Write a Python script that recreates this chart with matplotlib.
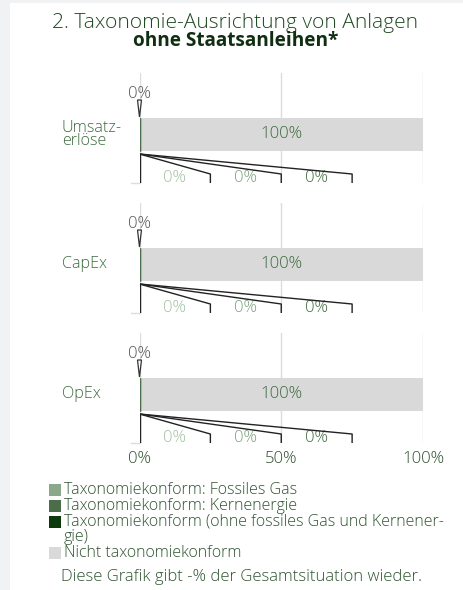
import matplotlib
matplotlib.use("Agg")
import matplotlib.pyplot as plt
from matplotlib.patches import Rectangle, Polygon

plt.rcParams['font.family'] = ['Open Sans', 'DejaVu Sans']
plt.rcParams['font.weight'] = 'light'

# ---- data ----
categories = ["Umsatz-\nerlöse", "CapEx", "OpEx"]
series_names = ["Taxonomiekonform: Fossiles Gas",
                "Taxonomiekonform: Kernenergie",
                "Taxonomiekonform (ohne fossiles Gas und Kernener-\ngie)",
                "Nicht taxonomiekonform"]
fossil_gas = [0, 0, 0]
nuclear = [0, 0, 0]
aligned_other = [0, 0, 0]
not_aligned = [100, 100, 100]
tick_values = [0, 50, 100]
tick_labels = ["0%", "50%", "100%"]

col_gas = "#8aa88a"
col_nuc = "#4a6e4a"
col_other = "#0b3a0b"
col_not = "#d9d9d9"
series_colors = [col_gas, col_nuc, col_other, col_not]
txt_green = "#3d6b3d"
line_col = "#222222"
FS_NUM = 12.1
FS_LAB = 11.6
FS_LEG = 11.5

W, H = 464, 590
fig = plt.figure(figsize=(W / 100, H / 100), dpi=100)
fig.patch.set_facecolor("#f1f2f4")
fig.add_artist(Rectangle((10 / W, 0), 1 - 10 / W, 1 - 3 / H, transform=fig.transFigure,
                         facecolor="white", edgecolor="none", zorder=0))

def fy(py):
    return 1 - py / H

def fx(px):
    return px / W

fig.text(fx(235), fy(23), "2. Taxonomie-Ausrichtung von Anlagen", ha="center", va="center",
         fontsize=15.1, color="#1f4a22")
fig.text(fx(235.5), fy(41.5), "ohne Staatsanleihen*", ha="center", va="center",
         fontsize=13.7, fontweight="bold", color="#0f2e12")

panel_tops = [73, 203, 333]
ph = 110
x0, x1 = 139.5, 423
bar_c, bar_h = 61.5, 33

for i, cat in enumerate(categories):
    top = panel_tops[i]
    ax = fig.add_axes([fx(x0), fy(top + ph), (x1 - x0) / W, ph / H])
    ax.set_xlim(0, 100)
    ax.set_ylim(ph, 0)
    ax.set_facecolor("none")
    for s in ax.spines.values():
        s.set_visible(False)
    for g in tick_values:
        ax.axvline(g, color="#dcdcdc", lw=1, zorder=0)
    ax.plot([-3, 0], [ph, ph], color="#dcdcdc", lw=1, clip_on=False)

    # stacked bars
    left = 0
    vals = [aligned_other[i], fossil_gas[i], nuclear[i]]
    cols = [col_other, col_gas, col_nuc]
    for v, c in zip(vals, cols):
        ax.barh(bar_c, v, height=bar_h, left=left, color=c, edgecolor=c, lw=0.9, zorder=3)
        left += v
    ax.barh(bar_c, not_aligned[i], height=bar_h, left=left, color=col_not, lw=0, zorder=2)
    ax.text(left + not_aligned[i] / 2, bar_c, f"{not_aligned[i]}%", ha="center", va="center",
            fontsize=FS_NUM, color=txt_green, zorder=4)

    # top callout for total aligned
    tot = aligned_other[i] + fossil_gas[i] + nuclear[i]
    ax.add_patch(Polygon([[tot - 0.7, 27], [tot + 0.7, 27], [tot, 44]], closed=True,
                         facecolor="white", edgecolor="#333333", lw=0.9, zorder=5, clip_on=False))
    ax.text(tot, 21.5, f"{tot}%", ha="center", va="center", fontsize=FS_NUM, color="#555555")

    # bottom callouts
    sub_vals = [fossil_gas[i], nuclear[i], aligned_other[i]]
    sub_cols = ["#a2c0a2", "#7ba37b", "#3f6c3f"]
    ax.plot([0, 0], [81, ph], color=line_col, lw=1, zorder=5)
    for k, (v, c) in enumerate(zip(sub_vals, sub_cols)):
        xe = 25 * (k + 1)
        ax.plot([0, xe, xe], [81, 101, ph], color=line_col, lw=1, zorder=5)
        ax.text(xe - 12.5, 105.5, f"{v}%", ha="center", va="center", fontsize=FS_NUM, color=c)

    ax.set_yticks([])
    if i == len(categories) - 1:
        ax.set_xticks(tick_values)
        ax.set_xticklabels(tick_labels, fontsize=FS_NUM, color="#2f4f2f")
        ax.tick_params(axis="x", length=0, pad=5.5)
    else:
        ax.set_xticks([])

    fig.text(fx(62), fy(top + bar_c), cat, ha="left", va="center",
             fontsize=FS_LAB, color=txt_green, linespacing=0.7)

# legend
rows = [490, 506, 522, 553]
for name, c, ry in zip(series_names, series_colors, rows):
    fig.add_artist(Rectangle((fx(49), fy(ry + 6)), 12 / W, 12 / H, transform=fig.transFigure,
                             facecolor=c, edgecolor="none"))
    for j, ln in enumerate(name.split("\n")):
        fig.text(fx(64), fy(ry + 15 * j), ln, ha="left", va="center",
                 fontsize=FS_LEG, color="#2e5430")

fig.text(fx(61), fy(577), "Diese Grafik gibt -% der Gesamtsituation wieder.", ha="left",
         va="center", fontsize=12, color="#2e5430")

fig.savefig("out.png", dpi=100, facecolor=fig.get_facecolor())
